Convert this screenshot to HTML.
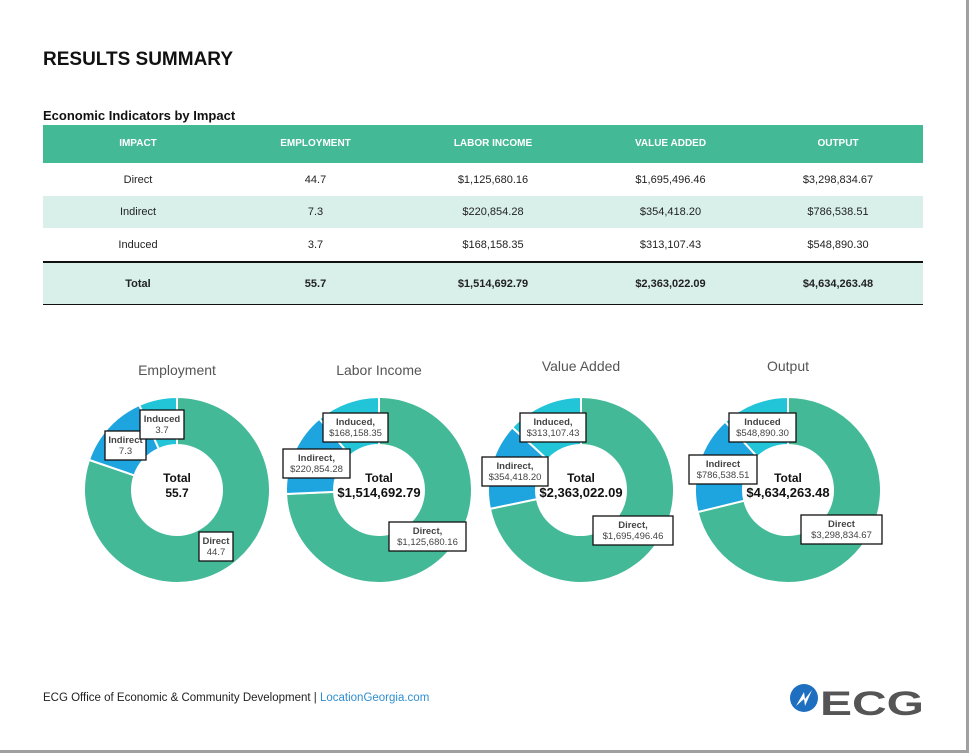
<!DOCTYPE html>
<html><head><meta charset="utf-8">
<style>
body{margin:0;width:971px;height:755px;background:#fff;font-family:"Liberation Sans",sans-serif;position:relative;overflow:hidden}
#frame{position:absolute;left:0;top:0;width:966px;height:750px;border-right:3px solid #a0a0a0;border-bottom:3px solid #a0a0a0;box-sizing:content-box}
h1{position:absolute;left:43px;top:49px;margin:0;font-size:19px;font-weight:bold;color:#111}
h2{position:absolute;left:43px;top:108px;margin:0;font-size:13px;font-weight:bold;color:#111}
table{position:absolute;left:43px;top:125px;width:880px;border-collapse:collapse;font-size:11px;color:#222}
th,td{padding:0;line-height:12px}
th{background:#44b995;color:#fff;height:38px;font-size:10px;font-weight:bold;text-align:center}
td{text-align:center}
tr.r1 td{height:33px;background:#fff}
tr.r2 td{height:32px;background:#d9f0ea}
tr.r3 td{height:33px;background:#fff}
tr.tot td{height:41px;background:#d9f0ea;font-weight:bold;border-top:2px solid #111;border-bottom:1px solid #111}
#charts{position:absolute;left:0;top:340px}
#footer{position:absolute;left:43px;top:692px;font-size:11.5px;color:#222}
#footer span{color:#2f8fcf}
#logo{position:absolute;left:788px;top:681px}
</style></head><body>
<div id="frame"></div>
<h1>RESULTS SUMMARY</h1>
<h2>Economic Indicators by Impact</h2>
<table>
<tr><th style="width:190px">IMPACT</th><th style="width:165px">EMPLOYMENT</th><th style="width:190px">LABOR INCOME</th><th style="width:165px">VALUE ADDED</th><th>OUTPUT</th></tr>
<tr class="r1"><td>Direct</td><td>44.7</td><td>$1,125,680.16</td><td>$1,695,496.46</td><td>$3,298,834.67</td></tr>
<tr class="r2"><td>Indirect</td><td>7.3</td><td>$220,854.28</td><td>$354,418.20</td><td>$786,538.51</td></tr>
<tr class="r3"><td>Induced</td><td>3.7</td><td>$168,158.35</td><td>$313,107.43</td><td>$548,890.30</td></tr>
<tr class="tot"><td>Total</td><td>55.7</td><td>$1,514,692.79</td><td>$2,363,022.09</td><td>$4,634,263.48</td></tr>
</table>
<svg id="charts" width="971" height="260"></svg>
<div id="footer">ECG Office of Economic &amp; Community Development | <span>LocationGeorgia.com</span></div>
<svg id="logo" width="140" height="36">
<circle cx="16" cy="17" r="14" fill="#1f6fc0"/>
<path d="M8 25 L16 11 L17 18 L24 9 L17 25 L16 18 Z" fill="#fff"/>
<text x="32" y="34" font-size="34" font-weight="bold" fill="#555" font-family="Liberation Sans" textLength="104" lengthAdjust="spacingAndGlyphs">ECG</text>
</svg>
<script>
const titles=["Employment","Labor Income","Value Added","Output"];
const categories=["Direct","Indirect","Induced"];
const direct=[44.7,1125680.16,1695496.46,3298834.67];
const indirect=[7.3,220854.28,354418.20,786538.51];
const induced=[3.7,168158.35,313107.43,548890.30];
const totals=["55.7","$1,514,692.79","$2,363,022.09","$4,634,263.48"];
const directLbl=["Direct|44.7","Direct,|$1,125,680.16","Direct,|$1,695,496.46","Direct|$3,298,834.67"];
const indirectLbl=["Indirect|7.3","Indirect,|$220,854.28","Indirect,|$354,418.20","Indirect|$786,538.51"];
const inducedLbl=["Induced|3.7","Induced,|$168,158.35","Induced,|$313,107.43","Induced|$548,890.30"];
const colors=["#43b997","#1ea5e0","#22c4d8"];
const NS="http://www.w3.org/2000/svg";
const svg=document.getElementById('charts');
const cxs=[177,379,581,788],cy=150,R=93,r=45,titleY=[35,35,31,31];
function mk(t,a){const e=document.createElementNS(NS,t);for(const k in a)e.setAttribute(k,a[k]);svg.appendChild(e);return e;}
function pt(c,a,rr){return [c+rr*Math.sin(a),cy-rr*Math.cos(a)];}
const lblOff=[[[22,42],[-72,-59],[-37,-80]],[[10,32],[-96,-41],[-56,-77]],[[12,26],[-99,-33],[-61,-77]],[[13,25],[-99,-35],[-59,-77]]];
const lblW=[[34,41,44],[77,67,65],[80,66,66],[81,68,67]];
for(let i=0;i<4;i++){
  const vals=[direct[i],indirect[i],induced[i]];
  const lbls=[directLbl[i],indirectLbl[i],inducedLbl[i]];
  const sum=vals.reduce((a,b)=>a+b,0);
  const t=mk('text',{x:cxs[i],y:titleY[i],'text-anchor':'middle','font-size':14,fill:'#555'});
  t.textContent=titles[i];
  
  
  let a0=0;
  for(let j=0;j<3;j++){
    const a1=a0+vals[j]/sum*2*Math.PI;
    const [x0,y0]=pt(cxs[i],a0,R),[x1,y1]=pt(cxs[i],a1,R),[x2,y2]=pt(cxs[i],a1,r),[x3,y3]=pt(cxs[i],a0,r);
    const lg=(a1-a0)>Math.PI?1:0;
    const p=mk('path',{d:`M${x0} ${y0}A${R} ${R} 0 ${lg} 1 ${x1} ${y1}L${x2} ${y2}A${r} ${r} 0 ${lg} 0 ${x3} ${y3}Z`,fill:colors[j],stroke:'#fff','stroke-width':2});
    
    
    a0=a1;
  }
  for(let j=0;j<3;j++){
    const [dx,dy]=lblOff[i][j],w=lblW[i][j];
    const x=cxs[i]+dx,y=cy+dy;
    const b=mk('rect',{x:x,y:y,width:w,height:29,fill:'#fff',stroke:'#111','stroke-width':1.3});
    
    
    const parts=lbls[j].split('|');
    parts.forEach((s,k)=>{
      const tx=mk('text',{x:x+w/2,y:y+12+k*11,'text-anchor':'middle','font-size':9.5,'font-weight':k==0?'bold':'normal',fill:'#444'});
      tx.textContent=s;
      
      
    });
  }
  const tl=mk('text',{x:cxs[i],y:cy-8,'text-anchor':'middle','font-size':12,'font-weight':'bold',fill:'#111'});
  tl.textContent='Total';
  
  
  const tv=mk('text',{x:cxs[i],y:cy+7,'text-anchor':'middle','font-size':i==0?12:13,'font-weight':'bold',fill:'#111'});
  tv.textContent=totals[i];
  
  
}
</script>
</body></html>
